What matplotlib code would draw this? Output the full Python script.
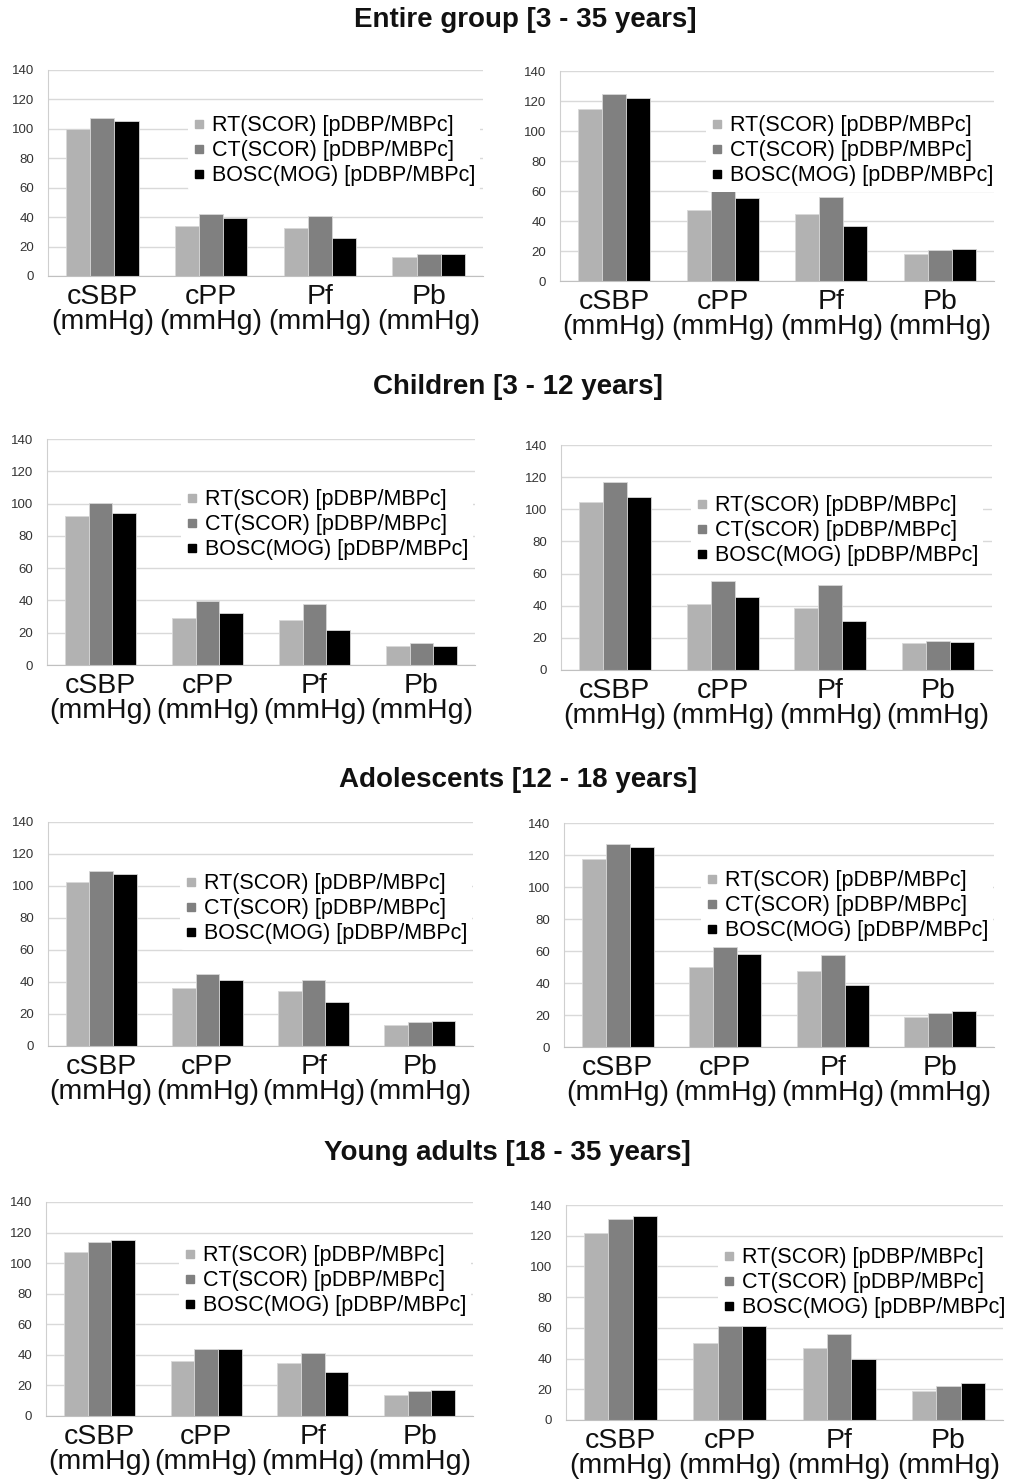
import matplotlib
matplotlib.use("Agg")
import matplotlib.pyplot as plt
from matplotlib.lines import Line2D
import numpy as np

plt.rcParams['font.family'] = ['Liberation Sans', 'DejaVu Sans']

categories = ['cSBP\n(mmHg)', 'cPP\n(mmHg)', 'Pf\n(mmHg)', 'Pb\n(mmHg)']
series_names = ['RT(SCOR) [pDBP/MBPc]', 'CT(SCOR) [pDBP/MBPc]', 'BOSC(MOG) [pDBP/MBPc]']
series_colors = ['#b2b2b2', '#808080', '#000000']
yticks = [0, 20, 40, 60, 80, 100, 120, 140]

titles = ['Entire group [3 - 35 years]', 'Children [3 - 12 years]',
          'Adolescents [12 - 18 years]', 'Young adults [18 - 35 years]']

# values: [RT, CT, BOSC] per category
entire_left = [[100.2, 33.9, 32.3, 12.9], [107.7, 42.4, 40.6, 15.1], [105.4, 39.3, 26.0, 15.1]]
entire_right = [[114.5, 47.3, 44.6, 18.3], [125.0, 59.8, 56.0, 21.0], [121.9, 55.1, 36.8, 21.4]]
children_left = [[92.1, 29.3, 27.9, 12.0], [100.6, 39.6, 37.8, 13.4], [94.2, 32.4, 21.7, 11.8]]
children_right = [[104.3, 40.9, 38.6, 16.6], [116.7, 55.5, 53.2, 18.3], [107.8, 45.7, 30.3, 17.2]]
adolescents_left = [[102.6, 36.0, 34.5, 12.9], [109.6, 44.7, 41.4, 14.8], [107.8, 41.2, 27.7, 15.6]]
adolescents_right = [[117.3, 50.1, 47.8, 18.5], [127.1, 62.4, 57.2, 21.0], [124.8, 58.0, 38.9, 22.5]]
young_left = [[107.0, 36.0, 34.5, 13.8], [113.6, 43.7, 41.3, 16.2], [114.9, 43.7, 28.6, 17.3]]
young_right = [[121.7, 50.4, 47.2, 19.1], [130.9, 60.9, 56.1, 22.4], [132.6, 60.9, 39.6, 24.3]]

panels = [entire_left, entire_right, children_left, children_right,
          adolescents_left, adolescents_right, young_left, young_right]

W, H = 1023, 1479
fig = plt.figure(figsize=(W / 100, H / 100), dpi=100)

# axes boxes in pixels: (x0, x1, ytop, ybottom)
boxes = [(48, 483, 70, 276), (560, 994, 71, 281),
         (47, 475, 439, 665), (561, 992, 445, 670),
         (48, 473, 822, 1046), (564, 994, 823, 1047),
         (46, 473, 1202, 1416), (566, 1003, 1205, 1420)]
# legend anchor (marker x, first-row center y) in pixels
leg_pos = [(200, 123), (718, 123), (193, 497), (703, 503),
           (192, 881), (713, 878), (191, 1253), (730, 1255)]
title_pos = [(525, 20), (518, 387), (518, 780), (507, 1153)]

x = np.arange(len(categories))
bw = 0.222
for i, (data, box, lp) in enumerate(zip(panels, boxes, leg_pos)):
    x0, x1, yt, yb = box
    ax = fig.add_axes([x0 / W, 1 - yb / H, (x1 - x0) / W, (yb - yt) / H])
    for k, (vals, col) in enumerate(zip(data, series_colors)):
        ax.bar(x + (k - 1) * bw, vals, width=bw, color=col, edgecolor='#d8d8d8',
               linewidth=0.6, zorder=3)
    ax.set_xlim(-0.5, 3.5)
    ax.set_ylim(0, 140)
    ax.set_yticks(yticks)
    ax.set_yticklabels([str(t) for t in yticks])
    ax.set_xticks(x)
    ax.set_xticklabels(categories, fontsize=20.5, linespacing=0.93)
    ax.yaxis.grid(True, color='#d9d9d9', linewidth=1.0, zorder=0)
    ax.set_axisbelow(True)
    for s in ['top', 'right']:
        ax.spines[s].set_visible(False)
    ax.spines['left'].set_color('#cfcfcf')
    ax.spines['bottom'].set_color('#c0c0c0')
    ax.spines['bottom'].set_zorder(4)
    ax.tick_params(axis='y', length=0, pad=10, labelsize=9.5, labelcolor='#333333')
    ax.tick_params(axis='x', length=0, pad=6, labelcolor='#111111')
    handles = [Line2D([], [], marker='s', linestyle='none', color=c, markersize=6)
               for c in series_colors]
    mx, my = lp
    leg = ax.legend(handles, series_names, loc='upper left',
                    bbox_to_anchor=((mx - 12) / W, 1 - (my - 13) / H),
                    bbox_transform=fig.transFigure, fontsize=15.5,
                    frameon=True, facecolor='white', edgecolor='none', framealpha=1,
                    handlelength=0.5, handletextpad=0.35, labelspacing=0.18,
                    borderpad=0.25, borderaxespad=0)
    leg.set_zorder(5)

for t, (tx, ty) in zip(titles, title_pos):
    fig.text(tx / W, 1 - ty / H, t, ha='center', va='center', fontsize=20,
             fontweight='bold', color='#111111')

fig.savefig('out.png', dpi=100, facecolor='white')
